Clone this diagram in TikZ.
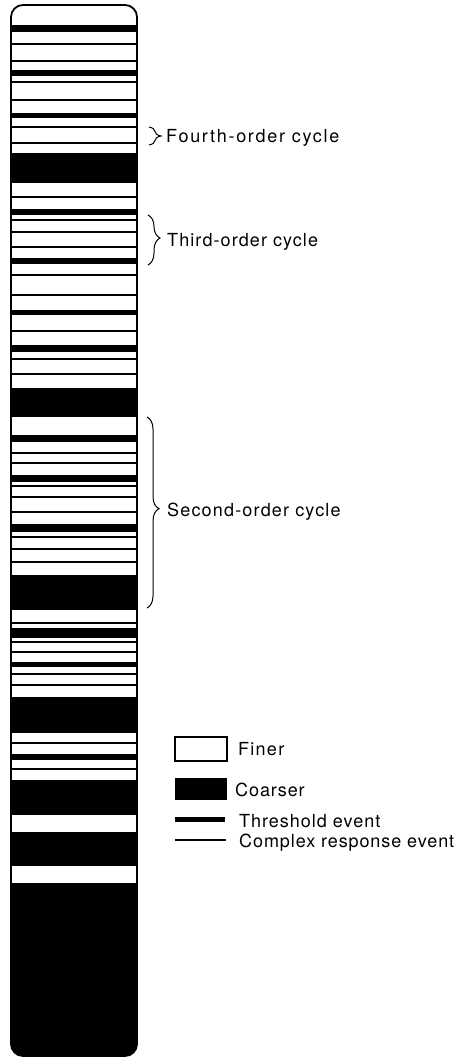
\documentclass[tikz,border=0pt]{standalone}
\usepackage{fontspec}
\setmainfont{TeX Gyre Heros}
\newfontfamily\lab{TeX Gyre Heros}
\usetikzlibrary{decorations.pathreplacing}
\begin{document}
\begin{tikzpicture}[x=1pt,y=-1pt,
  thresh/.style={line width=6pt},
  cre/.style={line width=1.4pt},
  lbl/.style={anchor=base west, inner sep=0pt, font=\lab\fontsize{18}{20}\selectfont},
  cbrace/.style={decorate, decoration={brace, amplitude=12pt, aspect=#1}, line width=1pt},
  colframe/.style={line width=1.8pt, rounded corners=12pt},
]
\useasboundingbox (0,0) rectangle (457,1059);
% column
\begin{scope}
  \clip[rounded corners=12pt] (11,5) rectangle (137,1056);
  % coarser beds
  \foreach \a/\b in {153/183, 388/417, 575/610, 697/733, 780/815, 832/866, 883/1070}
    \fill[black] (0,\a) rectangle (150,\b);
  % threshold events
  \foreach \a/\b in {25/32, 70/76, 113/118, 209/215, 258/264, 310/315, 345/352,
                     435/442, 475/482, 524/532, 628/638, 662/667, 754/760}
    \fill[black] (0,\a) rectangle (150,\b);
  % complex response events
  \foreach \y in {44, 61, 82, 100, 127, 143, 197, 220, 232, 247, 275, 295, 331,
                  359, 374, 453, 463, 486, 497, 512, 537, 549, 562, 623, 642,
                  652, 674, 685, 743, 769}
    \draw[cre] (0,\y) -- (150,\y);
\end{scope}
\draw[colframe] (11,5) rectangle (137,1056);

% braces and cycle labels
\draw[cbrace=0.5] (149,127) -- (149,145);
\node[lbl] (fourth) at (166,143) {\addfontfeature{LetterSpace=9.5}Fourth-order cycle};
\draw[cbrace=0.46] (148,215) -- (148,265);
\node[lbl] (third) at (167,246.5) {\addfontfeature{LetterSpace=6}Third-order cycle};
\draw[cbrace=0.48] (147,417) -- (147,608);
\node[lbl] (second) at (167,516) {\addfontfeature{LetterSpace=6.5}Second-order cycle};

% legend
\draw[line width=1.5pt] (175,737) rectangle (227,761);
\node[lbl] (finer) at (238,755) {\addfontfeature{LetterSpace=7}Finer};
\fill[black] (175,778) rectangle (227,800);
\node[lbl] (coarser) at (235,796.5) {\addfontfeature{LetterSpace=5}Coarser};
\draw[line width=5pt] (175,819) -- (225,819);
\node[lbl] (thr) at (239,827.5) {\addfontfeature{LetterSpace=5.5}Threshold event};
\draw[line width=1.2pt] (175,840) -- (226,840);
\node[lbl] (cre) at (239,847.5) {\addfontfeature{LetterSpace=5}Complex response event};
\end{tikzpicture}
\end{document}
